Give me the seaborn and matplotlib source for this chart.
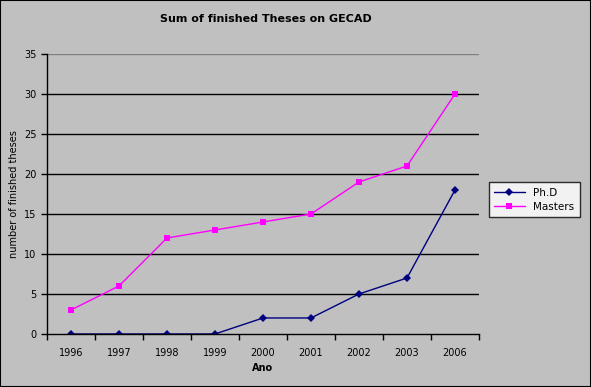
import pandas as pd
import matplotlib.pyplot as plt
import seaborn as sns

years = ['1996', '1997', '1998', '1999', '2000', '2001', '2002', '2003', '2006']
phd = [0, 0, 0, 0, 2, 2, 5, 7, 18]
masters = [3, 6, 12, 13, 14, 15, 19, 21, 30]

df = pd.DataFrame({'Ano': years * 2,
                   'value': phd + masters,
                   'serie': ['Ph.D'] * len(years) + ['Masters'] * len(years)})

sns.set_style('white')
plt.rcParams['font.family'] = ['DejaVu Sans']
plt.rcParams['text.color'] = 'black'
plt.rcParams['axes.labelcolor'] = 'black'
plt.rcParams['xtick.color'] = 'black'
plt.rcParams['ytick.color'] = 'black'

fig = plt.figure(figsize=(5.91, 3.87), dpi=100, facecolor='#C0C0C0')
ax = fig.add_axes([0.0795, 0.137, 0.731, 0.7235])
ax.set_facecolor('#C0C0C0')

sns.lineplot(data=df, x='Ano', y='value', hue='serie', style='serie',
             palette={'Ph.D': '#000080', 'Masters': '#FF00FF'},
             markers={'Ph.D': 'D', 'Masters': 's'}, dashes=False,
             markersize=4, linewidth=1, markeredgewidth=0, ax=ax)

ax.set_xlim(-0.5, len(years) - 0.5)
ax.set_ylim(0, 35)
ax.set_yticks(range(0, 36, 5))
for y in range(5, 35, 5):
    ax.axhline(y, color='black', linewidth=1.0, zorder=0)
ax.axhline(35, color='#808080', linewidth=1.0, zorder=0)

ax.set_xticks(range(len(years)))
ax.set_xticklabels(years)
ax.set_xticks([i - 0.5 for i in range(len(years) + 1)], minor=True)
ax.tick_params(axis='x', which='major', length=0, pad=10, labelsize=7)
ax.tick_params(axis='x', which='minor', length=4, width=1, color='black', direction='out', bottom=True)
ax.tick_params(axis='y', length=4, width=1, color='black', direction='out', left=True, labelsize=7)

for s in ['top', 'right']:
    ax.spines[s].set_visible(False)
for s in ['left', 'bottom']:
    ax.spines[s].set_color('black')
    ax.spines[s].set_linewidth(1.0)

ax.set_xlabel('Ano', fontsize=7, fontweight='bold')
ax.set_ylabel('number of finished theses', fontsize=7)
fig.text(0.45, 0.95, 'Sum of finished Theses on GECAD', fontsize=8, fontweight='bold', ha='center', va='center')

leg = ax.legend(loc='center left', bbox_to_anchor=(1.01, 0.48), fontsize=7.5, frameon=True,
                fancybox=False, edgecolor='black', facecolor='white', title=None,
                handlelength=3, borderpad=0.5, labelspacing=0.4)
leg.get_frame().set_linewidth(1)
for t in leg.get_texts():
    t.set_color('black')

fig.patches.append(plt.Rectangle((0, 0), 1, 1, transform=fig.transFigure, fill=False,
                                 edgecolor='black', linewidth=1.5))

fig.savefig('out.png', dpi=100, facecolor='#C0C0C0')
